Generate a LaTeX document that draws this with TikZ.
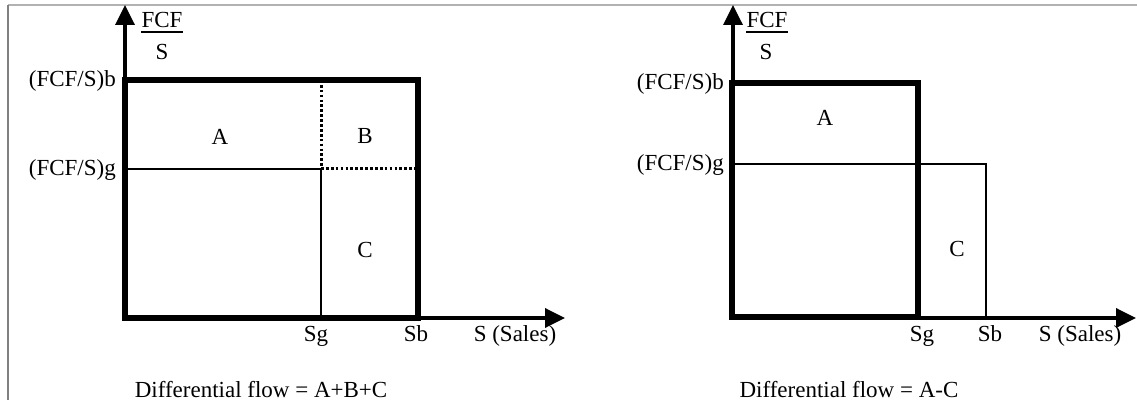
\documentclass[tikz,border=0pt]{standalone}
\usepackage{fontspec}
\setmainfont{Liberation Serif}
\usetikzlibrary{arrows.meta,calc}
\begin{document}
\begin{tikzpicture}[x=1pt,y=-1pt,
  axis/.style={line width=3.5pt, -{Triangle[length=20pt,width=19pt]}},
  thickbox/.style={line width=5.5pt},
  thinline/.style={line width=2pt},
  dotline/.style={line width=3pt, dash pattern=on 2.7pt off 2.2pt},
  lbl/.style={inner sep=0pt, font=\fontsize{23}{27}\selectfont},
  uline/.style={line width=1.5pt},
]
\useasboundingbox (0,0) rectangle (1137,403);

% page frame
\draw[draw=black!30, line width=1.5pt] (8,5) -- (1137,5);
\draw[draw=black!50, line width=1.5pt] (8,5) -- (8,400);

% ---------- left panel: A+B+C ----------
\coordinate (O1) at (125,318);
\coordinate (Y1) at (125,5);
\coordinate (X1) at (565,318);
\coordinate (b1) at (125,80);
\coordinate (g1) at (125,169);
\coordinate (gc1) at (321,169);
\coordinate (sg1) at (321,318);
\coordinate (sgt1) at (321,80);
\coordinate (gr1) at (418,169);
\coordinate (sb1) at (418,318);

\draw[thickbox] (b1) rectangle (sb1);
\draw[thinline] (g1) -- (gc1) -- (sg1);
\draw[dotline] (sgt1) -- (gc1);
\draw[dotline] (gc1) -- (gr1);
\draw[axis] (O1) -- (Y1);
\draw[axis] (O1) -- (X1);

\node[lbl, anchor=base east] (lb1) at (116,87) {(FCF/S)b};
\node[lbl, anchor=base east] (lg1) at (116,176) {(FCF/S)g};
\node[lbl, anchor=base] (fcf1) at (162,28) {FCF};
\draw[uline] ($(fcf1.base west)+(0,4)$) -- ($(fcf1.base east)+(0,4)$);
\node[lbl, anchor=base] (s1) at (162,60) {S};
\node[lbl] (A1) at (220,137) {A};
\node[lbl] (B1) at (365,136) {B};
\node[lbl] (C1) at (365,250) {C};
\node[lbl, anchor=base] (Sg1) at (316,341) {Sg};
\node[lbl, anchor=base] (Sb1) at (416,341) {Sb};
\node[lbl, anchor=base] (Ss1) at (515,341) {S (Sales)};
\node[lbl, anchor=base] (d1) at (261,397) {Differential flow = A+B+C};

% ---------- right panel: A-C ----------
\coordinate (O2) at (733,318);
\coordinate (Y2) at (733,5);
\coordinate (X2) at (1136,318);
\coordinate (b2) at (732,83);
\coordinate (sg2) at (918,317);
\coordinate (g2) at (733,164);
\coordinate (gr2) at (986,164);
\coordinate (sb2) at (986,318);

\draw[thickbox] (b2) rectangle (sg2);
\draw[thinline] (g2) -- (gr2) -- (sb2);
\draw[axis] (O2) -- (Y2);
\draw[axis] (O2) -- (X2);

\node[lbl, anchor=base east] (lb2) at (724,90) {(FCF/S)b};
\node[lbl, anchor=base east] (lg2) at (724,171) {(FCF/S)g};
\node[lbl, anchor=base] (fcf2) at (767,28) {FCF};
\draw[uline] ($(fcf2.base west)+(0,4)$) -- ($(fcf2.base east)+(0,4)$);
\node[lbl, anchor=base] (s2) at (766,60) {S};
\node[lbl] (A2) at (825,118) {A};
\node[lbl] (C2) at (957,249) {C};
\node[lbl, anchor=base] (Sg2) at (922,341) {Sg};
\node[lbl, anchor=base] (Sb2) at (990,341) {Sb};
\node[lbl, anchor=base] (Ss2) at (1080,341) {S (Sales)};
\node[lbl, anchor=base] (d2) at (849,397) {Differential flow = A-C};
\end{tikzpicture}
\end{document}
